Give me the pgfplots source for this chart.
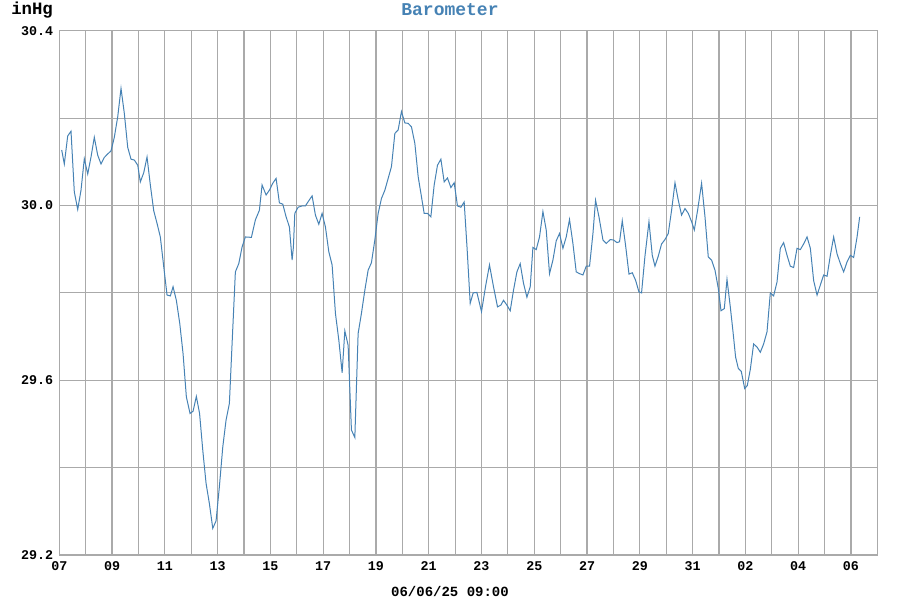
\documentclass[border=0pt]{standalone}
\usepackage{pgfplots}
\pgfplotsset{compat=1.18}
\usepackage{fontspec}
\setmainfont{Liberation Mono}
\definecolor{baroline}{RGB}{70,130,180}
\definecolor{gridgray}{RGB}{170,170,170}

% day offset from 07 May 00:00, pressure in inHg
\pgfplotstableread{
d p
0.091 30.127
0.190 30.095
0.318 30.159
0.444 30.170
0.569 30.031
0.698 29.991
0.823 30.035
0.948 30.107
1.077 30.072
1.202 30.111
1.327 30.156
1.456 30.115
1.581 30.095
1.706 30.110
1.835 30.118
1.960 30.125
2.085 30.156
2.214 30.203
2.339 30.268
2.464 30.211
2.593 30.133
2.718 30.106
2.844 30.104
2.973 30.092
3.071 30.054
3.200 30.075
3.325 30.111
3.450 30.047
3.579 29.988
3.704 29.959
3.829 29.928
3.958 29.860
4.083 29.795
4.209 29.793
4.311 29.814
4.436 29.783
4.565 29.730
4.690 29.661
4.815 29.562
4.955 29.524
5.069 29.529
5.194 29.563
5.316 29.524
5.437 29.440
5.562 29.364
5.687 29.318
5.816 29.261
5.941 29.278
6.066 29.356
6.195 29.447
6.320 29.509
6.446 29.547
6.537 29.669
6.673 29.848
6.802 29.867
6.927 29.905
7.052 29.928
7.280 29.927
7.431 29.967
7.583 29.989
7.685 30.047
7.837 30.024
7.962 30.035
8.091 30.051
8.216 30.062
8.341 30.006
8.470 30.003
8.595 29.974
8.720 29.951
8.823 29.875
8.872 29.905
8.925 29.982
9.050 29.996
9.202 29.999
9.327 29.999
9.456 30.011
9.581 30.022
9.706 29.978
9.835 29.957
9.960 29.982
10.085 29.951
10.214 29.894
10.339 29.864
10.465 29.753
10.593 29.692
10.719 29.617
10.821 29.713
10.946 29.680
11.071 29.486
11.200 29.469
11.325 29.707
11.450 29.753
11.579 29.806
11.704 29.852
11.829 29.869
11.958 29.921
12.084 29.982
12.209 30.016
12.338 30.035
12.463 30.062
12.588 30.089
12.717 30.165
12.842 30.173
12.967 30.215
13.096 30.189
13.221 30.188
13.346 30.180
13.475 30.142
13.600 30.066
13.725 30.020
13.827 29.982
13.953 29.982
14.081 29.974
14.207 30.047
14.332 30.092
14.461 30.106
14.586 30.054
14.711 30.063
14.840 30.041
14.965 30.052
15.090 29.999
15.219 29.996
15.344 30.008
15.458 29.898
15.572 29.776
15.685 29.800
15.826 29.801
16.000 29.757
16.152 29.814
16.303 29.864
16.455 29.814
16.607 29.768
16.735 29.772
16.834 29.783
16.963 29.772
17.088 29.759
17.213 29.806
17.342 29.848
17.467 29.867
17.592 29.822
17.721 29.790
17.847 29.814
17.949 29.904
18.074 29.899
18.199 29.928
18.328 29.986
18.453 29.944
18.578 29.844
18.707 29.875
18.832 29.919
18.957 29.936
19.086 29.902
19.211 29.928
19.336 29.968
19.465 29.913
19.590 29.848
19.716 29.844
19.844 29.841
19.970 29.861
20.095 29.861
20.224 29.936
20.323 30.012
20.452 29.974
20.603 29.921
20.728 29.913
20.880 29.922
21.005 29.921
21.134 29.915
21.232 29.917
21.335 29.965
21.460 29.909
21.589 29.843
21.714 29.846
21.839 29.829
21.968 29.802
22.066 29.800
22.195 29.884
22.347 29.963
22.472 29.886
22.574 29.861
22.699 29.884
22.825 29.912
22.954 29.922
23.079 29.936
23.204 29.989
23.333 30.052
23.458 30.012
23.583 29.978
23.712 29.993
23.837 29.982
23.962 29.963
24.065 29.944
24.190 29.989
24.341 30.051
24.470 29.974
24.595 29.882
24.720 29.875
24.849 29.852
24.975 29.810
25.077 29.759
25.202 29.764
25.304 29.831
25.429 29.768
25.532 29.711
25.630 29.653
25.733 29.627
25.846 29.620
25.975 29.581
26.074 29.588
26.188 29.625
26.313 29.683
26.442 29.676
26.567 29.664
26.692 29.683
26.821 29.711
26.946 29.800
27.071 29.793
27.200 29.825
27.325 29.902
27.450 29.915
27.579 29.886
27.704 29.861
27.829 29.858
27.958 29.902
28.083 29.899
28.209 29.912
28.338 29.928
28.463 29.902
28.588 29.828
28.717 29.795
28.842 29.818
28.967 29.841
29.096 29.838
29.221 29.886
29.346 29.928
29.475 29.889
29.600 29.867
29.725 29.848
29.854 29.871
29.979 29.886
30.104 29.881
30.233 29.928
30.332 29.974
}\baro

\begin{document}
\begin{tikzpicture}
% page = 900x600 px at 0.75pt per px; axis box from (59.3,30.7) to (877.3,555) px
\path[use as bounding box] (-44.475pt,-33.75pt) rectangle (630.525pt,416.25pt);
\begin{axis}[
    at={(0pt,0pt)}, anchor=south west,
    scale only axis,
    width=613.5pt, height=393.2pt,
    xmin=0, xmax=31,
    ymin=29.2, ymax=30.4,
    xtick={0,2,...,30},
    xticklabels={07,09,11,13,15,17,19,21,23,25,27,29,31,02,04,06},
    minor xtick={1,3,...,31},
    ytick={29.2,29.6,30.0,30.4},
    yticklabels={29.2,29.6,30.0,30.4},
    minor ytick={29.4,29.8,30.2},
    xmajorgrids, xminorgrids, ymajorgrids, yminorgrids,
    grid style={gridgray, line width=0.9pt},
    minor grid style={gridgray, line width=0.9pt},
    axis line style={gridgray, line width=0.9pt},
    major tick length=0pt, minor tick length=0pt,
    xticklabel style={font=\bfseries\fontsize{10pt}{12pt}\selectfont, inner sep=0pt, anchor=north, yshift=-4.5pt},
    yticklabel style={font=\bfseries\fontsize{10pt}{12pt}\selectfont, inner sep=0pt, anchor=east, xshift=-4.5pt},
    clip=false,
]
\addplot[baroline, line width=0.75pt, no marks] table[x=d, y=p] {\baro};
\node[anchor=base, inner sep=0pt, text=baroline, font=\bfseries\fontsize{13.5pt}{16pt}\selectfont]
    at (axis description cs:0.4776,1.030) {Barometer};
\node[anchor=base west, inner sep=0pt, font=\bfseries\fontsize{13pt}{16pt}\selectfont]
    at (axis description cs:-0.059,1.0319) {inHg};
\node[anchor=center, inner sep=0pt, font=\bfseries\fontsize{10.5pt}{12pt}\selectfont]
    at (axis description cs:0.4776,-0.0696) {06/06/25 09:00};
\end{axis}
\end{tikzpicture}
\end{document}
